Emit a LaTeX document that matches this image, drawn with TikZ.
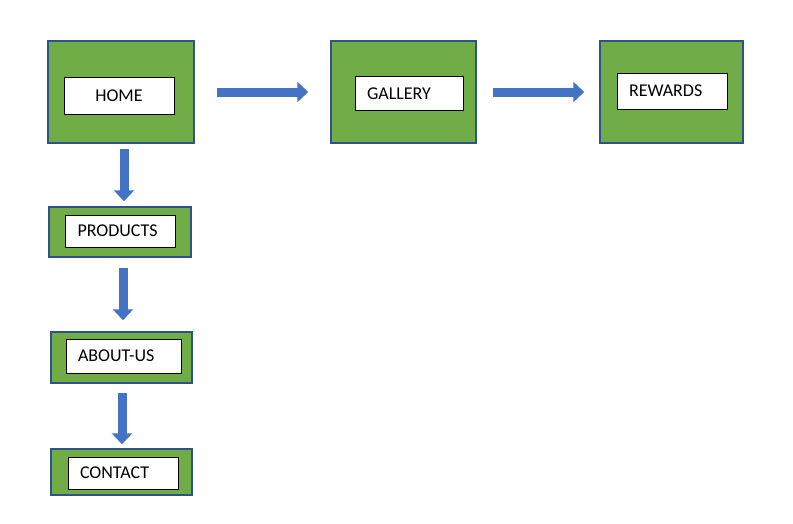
\documentclass[tikz,border=0pt]{standalone}
\usepackage{fontspec}
\setmainfont{Carlito}
\usetikzlibrary{calc}
\usetikzlibrary{arrows.meta}
\definecolor{pagegreen}{HTML}{70AD47}
\definecolor{edgeblue}{HTML}{2F528F}
\definecolor{arrowblue}{HTML}{4472C4}
\tikzstyle{pagebox}=[draw=edgeblue,fill=pagegreen,line width=1.5pt,inner sep=0pt]
\tikzstyle{labelbox}=[draw=black,fill=white,line width=1pt,text width=86pt,inner xsep=12pt,minimum height=34pt,align=left,font=\fontsize{18}{21}\selectfont]
\tikzstyle{blockarrow}=[draw=arrowblue,line width=9pt,-{Triangle[length=11pt,width=20pt]}]
\newcommand{\sitepage}[6][]{% [label box options] name, centre, outer width, outer height, text
  \node[pagebox,minimum width=#4,minimum height=#5] (#2) at (#3) {};
  \node[labelbox,#1] (#2label) at (#2) {#6};
}
\begin{document}
\begin{tikzpicture}[x=1pt,y=-1pt]
  \useasboundingbox (0,0) rectangle (793,523);
  \sitepage[xshift=-2pt,yshift=-3.5pt,align=center,minimum height=37pt]{home}{121,92}{146pt}{102pt}{HOME}
  \sitepage[xshift=.5pt,yshift=1pt,minimum height=32pt]{products}{120,232}{142pt}{50pt}{PRODUCTS}
  \sitepage[xshift=2pt,yshift=1.5pt,text width=91pt]{about}{121.5,357.5}{141pt}{51pt}{ABOUT-US}
  \sitepage[xshift=1.5pt,yshift=-1pt,minimum height=32pt]{contact}{121.5,472}{141pt}{46pt}{CONTACT}
  \sitepage[xshift=5.5pt,yshift=-1.5pt,text width=84pt]{gallery}{403.5,92}{145pt}{102pt}{GALLERY}
  \sitepage[xshift=.5pt,yshift=1pt,minimum height=36pt]{rewards}{671.5,92}{143pt}{102pt}{REWARDS}
  % across the top
  \draw[blockarrow,shorten <=22pt,shorten >=22pt] (home.east) -- (gallery.west);
  \draw[blockarrow,shorten <=16pt,shorten >=15pt] (gallery.east) -- (rewards.west);
  % down the left
  \draw[blockarrow,shorten <=5pt,shorten >=5pt] ([xshift=3pt]home.south) -- ([xshift=3pt]home.south |- products.north);
  \draw[blockarrow,shorten <=10pt,shorten >=11pt] ([xshift=3pt]products.south) -- ([xshift=3pt]products.south |- about.north);
  \draw[blockarrow,shorten <=9pt,shorten >=4pt] ([xshift=.5pt]about.south) -- ([xshift=.5pt]about.south |- contact.north);
\end{tikzpicture}
\end{document}
